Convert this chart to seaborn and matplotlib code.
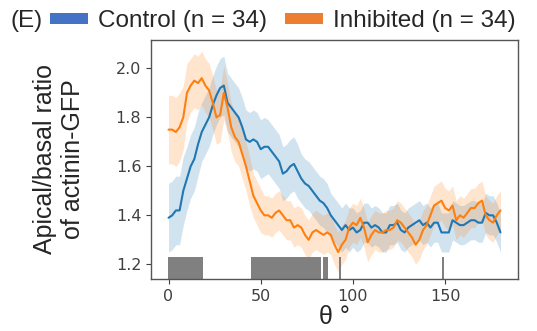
import numpy as np
import pandas as pd
import matplotlib
matplotlib.use('Agg')
import matplotlib.pyplot as plt
from matplotlib.patches import Patch
import seaborn as sns

# angle grid (degrees), one reading every 2 degrees
theta = list(range(0, 181, 2))

# mean apical/basal ratio
control_mean = [1.39, 1.40, 1.42, 1.42, 1.50, 1.55, 1.60, 1.63, 1.69, 1.74,
                1.77, 1.80, 1.85, 1.89, 1.92, 1.93, 1.86, 1.84, 1.82, 1.80,
                1.76, 1.71, 1.70, 1.71, 1.70, 1.67, 1.68, 1.68, 1.66, 1.64,
                1.62, 1.57, 1.58, 1.60, 1.61, 1.58, 1.55, 1.53, 1.52, 1.50,
                1.48, 1.46, 1.45, 1.43, 1.40, 1.38, 1.36, 1.34, 1.36, 1.34,
                1.35, 1.33, 1.34, 1.37, 1.37, 1.35, 1.36, 1.35, 1.33, 1.33,
                1.36, 1.36, 1.37, 1.34, 1.33, 1.35, 1.36, 1.37, 1.38, 1.36,
                1.37, 1.35, 1.37, 1.37, 1.33, 1.33, 1.33, 1.38, 1.37, 1.36,
                1.36, 1.37, 1.38, 1.38, 1.37, 1.37, 1.41, 1.40, 1.40, 1.37,
                1.33]
inhibited_mean = [1.75, 1.75, 1.74, 1.76, 1.80, 1.90, 1.93, 1.95, 1.94, 1.96,
                  1.93, 1.91, 1.86, 1.80, 1.81, 1.90, 1.84, 1.76, 1.72, 1.70,
                  1.65, 1.60, 1.54, 1.48, 1.45, 1.42, 1.40, 1.40, 1.39, 1.41,
                  1.42, 1.40, 1.38, 1.38, 1.35, 1.36, 1.35, 1.32, 1.30, 1.33,
                  1.34, 1.33, 1.32, 1.33, 1.32, 1.28, 1.25, 1.28, 1.30, 1.35,
                  1.37, 1.36, 1.39, 1.35, 1.29, 1.32, 1.34, 1.33, 1.33, 1.34,
                  1.34, 1.35, 1.38, 1.37, 1.35, 1.33, 1.31, 1.28, 1.30, 1.34,
                  1.36, 1.40, 1.44, 1.45, 1.46, 1.43, 1.42, 1.44, 1.38, 1.40,
                  1.39, 1.41, 1.43, 1.43, 1.45, 1.46, 1.40, 1.38, 1.37, 1.40,
                  1.42]

# half width of the shaded band
control_ci = [0.14, 0.14, 0.14, 0.14, 0.14, 0.13, 0.13, 0.13, 0.13, 0.12,
              0.12, 0.12, 0.12, 0.12, 0.12, 0.12, 0.12, 0.12, 0.12, 0.12,
              0.12, 0.12, 0.12, 0.12, 0.12, 0.12, 0.12, 0.11, 0.11, 0.11,
              0.11, 0.11, 0.11, 0.11, 0.11, 0.11, 0.10, 0.10, 0.10, 0.10,
              0.10, 0.10, 0.10, 0.10, 0.09, 0.09, 0.09, 0.09, 0.09, 0.09,
              0.08, 0.08, 0.08, 0.08, 0.08, 0.08, 0.08, 0.08, 0.08, 0.08,
              0.08, 0.08, 0.08, 0.08, 0.08, 0.08, 0.08, 0.08, 0.08, 0.08,
              0.08, 0.08, 0.08, 0.08, 0.08, 0.08, 0.08, 0.08, 0.08, 0.08,
              0.08, 0.08, 0.08, 0.08, 0.08, 0.08, 0.08, 0.08, 0.08, 0.08,
              0.08]
inhibited_ci = [0.14, 0.14, 0.14, 0.14, 0.13, 0.12, 0.11, 0.11, 0.11, 0.11,
                0.11, 0.11, 0.11, 0.11, 0.11, 0.11, 0.10, 0.10, 0.10, 0.10,
                0.10, 0.10, 0.10, 0.09, 0.09, 0.09, 0.08, 0.08, 0.08, 0.08,
                0.08, 0.08, 0.08, 0.08, 0.08, 0.08, 0.08, 0.08, 0.08, 0.08,
                0.08, 0.08, 0.08, 0.08, 0.08, 0.08, 0.08, 0.08, 0.08, 0.08,
                0.08, 0.08, 0.08, 0.08, 0.08, 0.08, 0.08, 0.08, 0.08, 0.08,
                0.08, 0.08, 0.08, 0.08, 0.08, 0.08, 0.08, 0.08, 0.08, 0.08,
                0.08, 0.08, 0.08, 0.08, 0.08, 0.08, 0.08, 0.08, 0.08, 0.08,
                0.08, 0.08, 0.08, 0.08, 0.08, 0.08, 0.08, 0.08, 0.08, 0.08,
                0.08]

# angles where the two groups differ significantly
sig_theta = (list(range(0, 19)) + list(range(45, 83)) + [84, 85, 86]
             + [93, 149])

labels = ['Control (n = 34)', 'Inhibited (n = 34)']
line_colors = ['#1f77b4', '#ff7f0e']
legend_colors = ['#4472C4', '#ED7D31']

df = pd.DataFrame({
    'theta': theta * 2,
    'ratio': control_mean + inhibited_mean,
    'ci': control_ci + inhibited_ci,
    'group': [labels[0]] * len(theta) + [labels[1]] * len(theta),
})

sns.set_style('ticks')

fig = plt.figure(figsize=(5.37, 3.31), dpi=100)
ax = fig.add_axes([0.2812, 0.1571, 0.6834, 0.7221])

sns.lineplot(data=df, x='theta', y='ratio', hue='group', palette=line_colors,
             errorbar=None, legend=False, linewidth=1.5, ax=ax)

for lab, col in zip(labels, line_colors):
    sub = df[df['group'] == lab]
    ax.fill_between(sub['theta'], sub['ratio'] - sub['ci'],
                    sub['ratio'] + sub['ci'], color=col, alpha=0.2,
                    linewidth=0)

# significance marks along the bottom
ax.bar(sig_theta, 0.09, bottom=1.14, width=1.0, color='#808080',
       linewidth=0, align='center')

ax.set_xlim(-9.5, 189.5)
ax.set_ylim(1.14, 2.116)
ax.set_xticks([0, 50, 100, 150])
ax.set_yticks([1.2, 1.4, 1.6, 1.8, 2.0])
ax.tick_params(labelsize=11.5, colors='.25')
for s in ax.spines.values():
    s.set_color('#555555')
    s.set_linewidth(1.0)

ax.set_xlabel('θ °', fontsize=18, family='Liberation Sans', labelpad=1)
ax.set_ylabel('Apical/basal ratio\nof actinin-GFP', fontsize=18,
              family='Liberation Sans', labelpad=22, linespacing=1.2)

fig.text(10 / 537, 1 - 21 / 331, '(E)', fontsize=17.5,
         family='Liberation Sans', va='center', ha='left')
handles = [Patch(facecolor=c, edgecolor='none') for c in legend_colors]
fig.legend(handles, labels, loc='center left',
           bbox_to_anchor=(50 / 537, 1 - 21 / 331), ncol=2, frameon=False,
           borderaxespad=0, borderpad=0, handlelength=1.55,
           handleheight=0.3, handletextpad=0.42, columnspacing=0.75,
           prop={'family': 'Liberation Sans', 'size': 17.5})

fig.savefig('out.png', dpi=100)
